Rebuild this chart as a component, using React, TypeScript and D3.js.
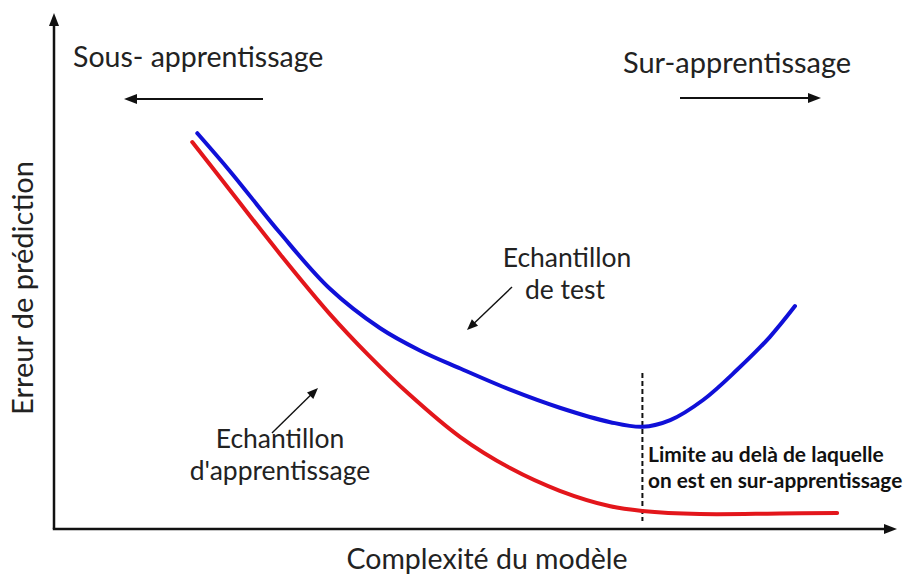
import React from "react";
import * as d3 from "d3";

// Complexity (0-100) vs prediction error (0-100)
const testComplexity = [17.0, 20.9, 26.8, 32.7, 38.7, 43.4, 48.2, 54.1, 60.0, 66.0, 69.8, 73.1, 77.0, 81.0, 84.9, 87.9];
const testError = [76.7, 69.3, 57.4, 46.6, 38.9, 34.6, 31.1, 27.0, 23.5, 20.7, 19.8, 21.1, 25.0, 30.8, 37.2, 43.2];

const trainComplexity = [16.4, 20.9, 26.8, 32.7, 37.3, 42.2, 48.2, 54.1, 60.0, 66.0, 69.8, 76.6, 86.1, 92.9];
const trainError = [75.0, 65.6, 53.3, 41.7, 33.7, 26.0, 17.8, 11.8, 7.4, 4.4, 3.5, 2.9, 3.0, 3.1];

const limitComplexity = 69.8;

const labels = {
  under: "Sous- apprentissage",
  over: "Sur-apprentissage",
  test: ["Echantillon", "de test"],
  train: ["Echantillon", "d'apprentissage"],
  limit: ["Limite au delà de laquelle", "on est en sur-apprentissage"],
  xTitle: "Complexité du modèle",
  yTitle: "Erreur de prédiction",
};

const W = 906;
const H = 578;
const FONT = "Lato, 'Open Sans', sans-serif";

function Arrow({ x1, y1, x2, y2, w, head, hw }: any) {
  const ang = Math.atan2(y2 - y1, x2 - x1);
  const bx = x2 - head * Math.cos(ang);
  const by = y2 - head * Math.sin(ang);
  const px = -Math.sin(ang) * hw;
  const py = Math.cos(ang) * hw;
  return (
    <g>
      <line x1={x1} y1={y1} x2={bx + 0.5 * head * Math.cos(ang)} y2={by + 0.5 * head * Math.sin(ang)} stroke="#111" strokeWidth={w} />
      <path d={`M${x2},${y2}L${bx + px},${by + py}L${bx - px},${by - py}Z`} fill="#111" />
    </g>
  );
}

export default function App() {
  const x = d3.scaleLinear().domain([0, 100]).range([54, 897]);
  const y = d3.scaleLinear().domain([0, 100]).range([529, 13]);

  const line = d3
    .line<[number, number]>()
    .x((d) => x(d[0]))
    .y((d) => y(d[1]))
    .curve(d3.curveCatmullRom.alpha(0.5));

  const testPts = testComplexity.map((c, i) => [c, testError[i]] as [number, number]);
  const trainPts = trainComplexity.map((c, i) => [c, trainError[i]] as [number, number]);

  const lx = x(limitComplexity);

  return (
    <svg
      width={W}
      height={H}
      style={{ position: "fixed", left: 0, top: 0, background: "#fff" }}
      fontFamily={FONT}
    >
      <rect width={W} height={H} fill="#fff" />
      {/* axes */}
      <path d={`M${x(0)},${y(0)}L${x(0)},${y(100) + 10}`} stroke="#111" strokeWidth={2.5} fill="none" />
      <path d={`M${x(0) - 1.2},${y(0)}L${x(100) - 10},${y(0)}`} stroke="#111" strokeWidth={2.5} fill="none" />
      <path d={`M${x(0)},${y(100)}L${x(0) - 5},${y(100) + 13}L${x(0) + 5},${y(100) + 13}Z`} fill="#111" />
      <path d={`M${x(100)},${y(0)}L${x(100) - 13},${y(0) - 5}L${x(100) - 13},${y(0) + 5}Z`} fill="#111" />

      {/* limit dashed line */}
      <line x1={lx} x2={lx} y1={373} y2={521} stroke="#111" strokeWidth={2} strokeDasharray="5,3" />

      {/* curves */}
      <path d={line(trainPts) || ""} stroke="#e3161b" strokeWidth={4} fill="none" strokeLinecap="round" />
      <path d={line(testPts) || ""} stroke="#1010d8" strokeWidth={4} fill="none" strokeLinecap="round" />

      {/* top labels */}
      <text x={73} y={67} fontSize={28.5} fill="#222">{labels.under}</text>
      <Arrow x1={263} y1={99} x2={124} y2={99} w={2} head={13} hw={5} />
      <text x={623} y={73} fontSize={29} fill="#222">{labels.over}</text>
      <Arrow x1={680} y1={98} x2={821} y2={98} w={2} head={13} hw={5} />

      {/* test label */}
      <text x={567} y={267} fontSize={26.5} textAnchor="middle" fill="#222">{labels.test[0]}</text>
      <text x={565} y={299} fontSize={26.5} textAnchor="middle" fill="#222">{labels.test[1]}</text>
      <Arrow x1={512} y1={287} x2={467} y2={330} w={1.4} head={11} hw={4.5} />

      {/* train label */}
      <text x={280} y={448} fontSize={26.5} textAnchor="middle" fill="#222">{labels.train[0]}</text>
      <text x={280} y={480} fontSize={26.5} textAnchor="middle" fill="#222">{labels.train[1]}</text>
      <Arrow x1={272} y1={433} x2={318} y2={388} w={1.4} head={11} hw={4.5} />

      {/* limit label */}
      <text x={648} y={462} fontSize={21} fontWeight="bold" fill="#111">{labels.limit[0]}</text>
      <text x={648} y={488} fontSize={20.8} fontWeight="bold" fill="#111">{labels.limit[1]}</text>

      {/* axis titles */}
      <text x={487} y={569} fontSize={28.5} textAnchor="middle" fill="#222">{labels.xTitle}</text>
      <text transform="translate(33,288) rotate(-90)" fontSize={29} textAnchor="middle" fill="#222">{labels.yTitle}</text>
    </svg>
  );
}
